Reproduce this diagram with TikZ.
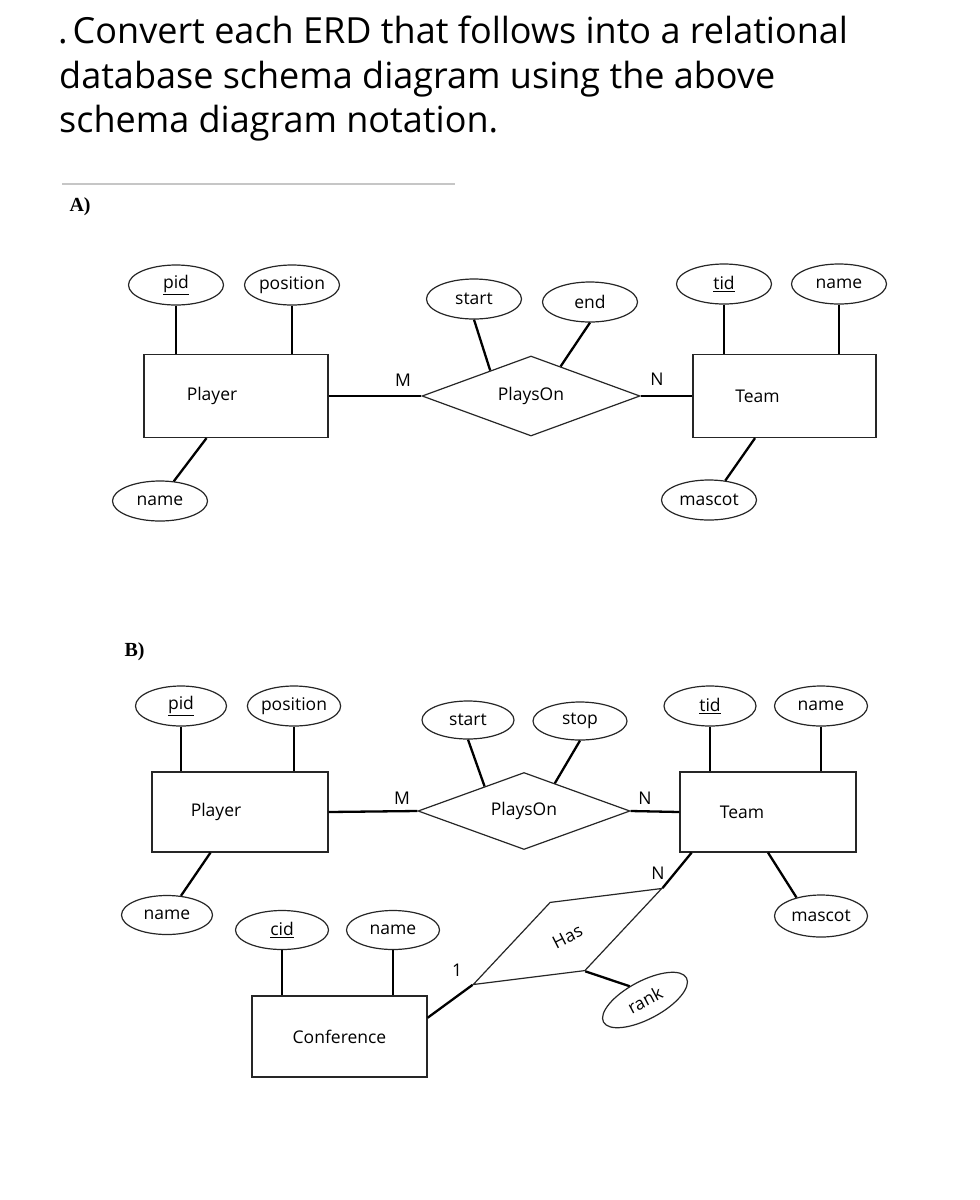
\documentclass[tikz,border=0pt]{standalone}
\usepackage{fontspec}
\setmainfont{Open Sans}
\newfontfamily\partfont{Liberation Serif}
\usetikzlibrary{shapes.geometric,positioning}

\tikzset{
  attr/.style={ellipse,draw=black!85,line width=1.2pt,inner sep=0pt,minimum width=95pt,minimum height=40pt},
  entity/.style={rectangle,draw=black!85,line width=1.2pt,inner sep=0pt},
  rel/.style={diamond,draw=black!85,line width=1.2pt,inner sep=0pt,aspect=2.75},
  conn/.style={line width=2.3pt},
  card/.style={inner sep=0pt},
  part/.style={font=\partfont\bfseries\fontsize{20}{22}\selectfont,anchor=base west},
  titleline/.style={font=\fontsize{36}{44}\selectfont,anchor=base west,inner sep=0pt}
}

\begin{document}
\begin{tikzpicture}[x=1pt,y=-1pt,font=\fontsize{17.5}{20}\selectfont]
\fill[white] (0,0) rectangle (980,1200);
\useasboundingbox (0,0) rectangle (980,1200);

% question
\node[titleline] (title1) at (58,43) {.\hspace{5pt}Convert each ERD that follows into a relational};
\node[titleline] (title2) at (59,88) {database schema diagram using the above};
\node[titleline] (title3) at (59,132) {schema diagram notation.};
\coordinate (rulea) at (62,184);
\coordinate (ruleb) at (455,184);
\draw[gray!45,line width=2pt] (rulea) -- (ruleb);

% A)
\node[part] (partA) at (66,211) {A)};
\node[attr] (pidA) at (176,285) {\underline{pid}};
\node[attr] (posA) at (292,285) {position};
\node[entity,minimum width=184pt,minimum height=83pt,label={[xshift=-24pt]center:Player}] (playerA) at (236,396) {};
\node[attr] (nameA) at (160,501) {name};
\node[attr] (startA) at (474,299) {start};
\node[attr] (endA) at (590,302) {end};
\node[rel,minimum width=218pt,minimum height=80pt] (playsA) at (531,396) {PlaysOn};
\node[attr] (tidA) at (724,284) {\underline{tid}};
\node[attr] (nameTA) at (839,284) {name};
\node[entity,minimum width=183pt,minimum height=83pt,label={[xshift=-27pt]center:Team}] (teamA) at (784.5,396) {};
\node[attr] (mascotA) at (709,500) {mascot};
\node[card] (mA) at (403,380) {M};
\node[card] (nA) at (657,379) {N};

\draw[conn] (pidA) -- (pidA |- playerA.north);
\draw[conn] (posA) -- (posA |- playerA.north);
\draw[conn] (playerA.235) -- (nameA.55);
\draw[conn] (playerA.east) -- (playsA.west);
\draw[conn] (startA.south) -- (playsA.148);
\draw[conn] (endA.south) -- (playsA.45);
\draw[conn] (playsA.east) -- (teamA.west);
\draw[conn] (tidA) -- (tidA |- teamA.north);
\draw[conn] (nameTA) -- (nameTA |- teamA.north);
\draw[conn] (teamA.235) -- (mascotA.50);

% B)
\node[part] (partB) at (121,656) {B)};
\node[attr,minimum width=91pt] (pidB) at (181,706) {\underline{pid}};
\node[attr,minimum width=92pt] (posB) at (294,706) {position};
\node[entity,minimum width=176pt,minimum height=80pt,label={[xshift=-24pt]center:Player}] (playerB) at (240,812) {};
\node[attr,minimum width=91pt,minimum height=39pt] (nameB) at (167,915) {name};
\node[attr,minimum width=92pt,minimum height=38pt] (startB) at (468,720) {start};
\node[attr,minimum width=94pt,minimum height=38pt] (stopB) at (580,721) {stop};
\node[rel,minimum width=212pt,minimum height=77pt] (playsB) at (524,811) {PlaysOn};
\node[attr,minimum width=92pt] (tidB) at (710,706) {\underline{tid}};
\node[attr,minimum width=93pt] (nameTB) at (821,706) {name};
\node[entity,minimum width=176pt,minimum height=80pt,label={[xshift=-26pt]center:Team}] (teamB) at (768,812) {};
\node[attr,minimum width=93pt,minimum height=42pt] (mascotB) at (821,916) {mascot};
\node[attr,minimum width=93pt,minimum height=39pt] (cidB) at (282,930) {\underline{cid}};
\node[attr,minimum width=93pt,minimum height=39pt] (nameCB) at (393,930) {name};
\node[entity,minimum width=175pt,minimum height=81pt] (confB) at (339.5,1036.5) {Conference};
\node[rel,rotate=27,minimum width=212pt,minimum height=77pt] (hasB) at (567.5,936.5) {Has};
\node[attr,rotate=28,minimum width=94pt,minimum height=38pt] (rankB) at (645,1000) {rank};
\node[card] (mB) at (402,798) {M};
\node[card] (nB) at (645,798) {N};
\node[card] (nB2) at (658,873) {N};
\node[card] (oneB) at (457,970) {1};

\draw[conn] (pidB) -- (pidB |- playerB.north);
\draw[conn] (posB) -- (posB |- playerB.north);
\draw[conn] (playerB.234) -- (nameB.54);
\draw[conn] (playerB.east) -- (playsB.west);
\draw[conn] (startB.south) -- (playsB.148);
\draw[conn] (stopB.south) -- (playsB.42);
\draw[conn] (playsB.east) -- (teamB.west);
\draw[conn] (tidB) -- (tidB |- teamB.north);
\draw[conn] (nameTB) -- (nameTB |- teamB.north);
\draw[conn] (teamB.south) -- (mascotB.143);
\draw[conn] (cidB) -- (cidB |- confB.north);
\draw[conn] (nameCB) -- (nameCB |- confB.north);
\draw[conn] (confB.12) -- (hasB.west);
\draw[conn] (hasB.east) -- (teamB.208);
\draw[conn] (hasB.south) -- (rankB.110);
\end{tikzpicture}
\end{document}
